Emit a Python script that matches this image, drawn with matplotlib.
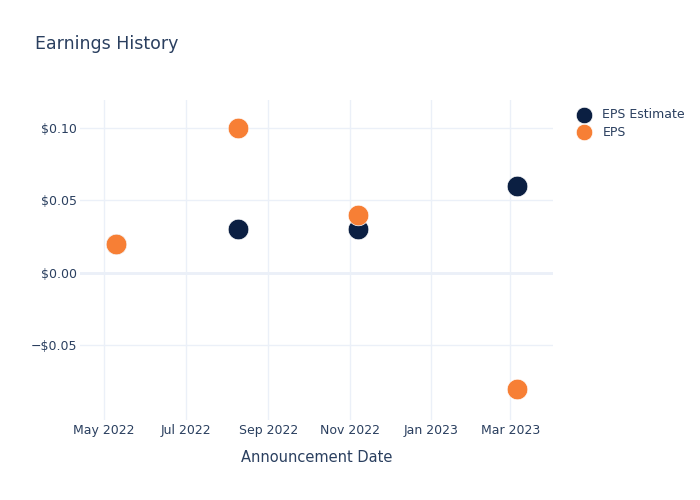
import numpy as np
import matplotlib.pyplot as plt
import matplotlib.dates as mdates
from matplotlib.ticker import FuncFormatter, FixedLocator
from datetime import datetime

# Data
dates = [datetime(2022, 5, 10), datetime(2022, 8, 9), datetime(2022, 11, 7), datetime(2023, 3, 6)]
eps_estimate = [0.02, 0.03, 0.03, 0.06]
eps_actual = [0.02, 0.10, 0.04, -0.08]
y_ticks = [-0.05, 0.0, 0.05, 0.10]

text_color = '#2a3f5f'
grid_color = '#ebf0f8'
navy = '#0b1f42'
orange = '#f77f35'

plt.rcParams['font.family'] = ['DejaVu Sans']

fig = plt.figure(figsize=(7, 5), dpi=100)
ax = fig.add_axes([80 / 700, 80 / 500, 473 / 700, 320 / 500])

ax.scatter(dates, eps_estimate, s=220, color=navy, edgecolors='white', linewidths=0.5,
           label='EPS Estimate', zorder=3)
ax.scatter(dates, eps_actual, s=220, color=orange, edgecolors='white', linewidths=0.5,
           label='EPS', zorder=4)

ax.set_xlim(datetime(2022, 4, 13), datetime(2023, 4, 2))
ax.set_ylim(-0.1014, 0.1193)

ax.xaxis.set_major_locator(mdates.MonthLocator(bymonth=[1, 3, 5, 7, 9, 11]))
ax.xaxis.set_major_formatter(mdates.DateFormatter('%b %Y'))
ax.yaxis.set_major_locator(FixedLocator(y_ticks))

def money(v, pos):
    if abs(v) < 1e-9:
        return '$0.00'
    s = '${:.2f}'.format(abs(v))
    return ('\u2212' + s) if v < 0 else s

ax.yaxis.set_major_formatter(FuncFormatter(money))

ax.grid(True, color=grid_color, linewidth=1, zorder=0)
ax.axhline(0, color=grid_color, linewidth=2, zorder=1)
for sp in ax.spines.values():
    sp.set_visible(False)
ax.tick_params(length=0, colors=text_color, labelsize=9)
ax.tick_params(axis='x', pad=3)
ax.tick_params(axis='y', pad=2)

ax.set_xlabel('Announcement Date', color=text_color, fontsize=10.5, labelpad=9)
fig.text(35 / 700, 1 - 44 / 500, 'Earnings History', color=text_color, fontsize=12.5,
         va='center', ha='left')

leg = ax.legend(loc='upper left', bbox_to_anchor=(560 / 700, 1 - 97 / 500),
                bbox_transform=fig.transFigure, frameon=False, fontsize=9,
                handletextpad=0.5, labelspacing=0.35, markerscale=0.8)
for t in leg.get_texts():
    t.set_color(text_color)

fig.savefig('out.png', dpi=100)
